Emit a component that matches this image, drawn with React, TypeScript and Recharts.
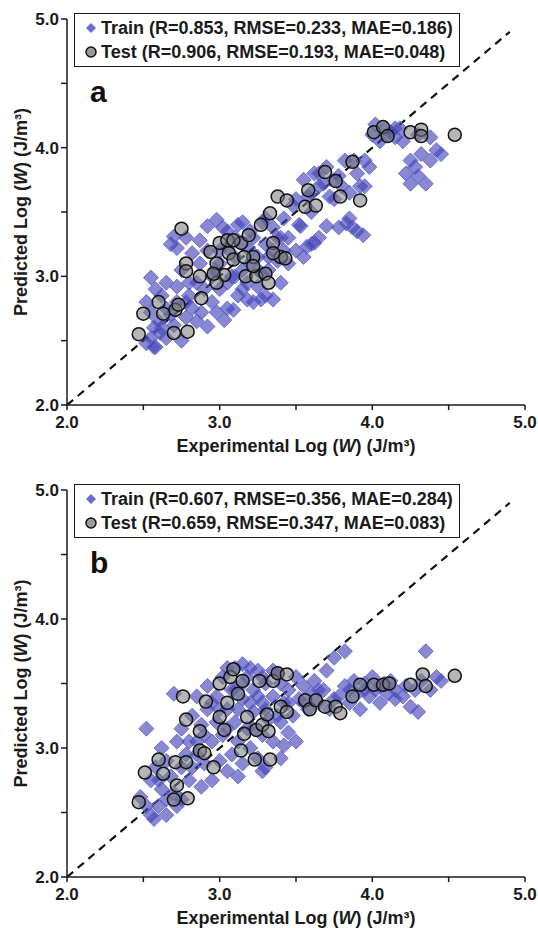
import React from "react";
import {
  Label,
  Legend,
  ReferenceLine,
  Scatter,
  ScatterChart,
  XAxis,
  YAxis,
} from "recharts";

// panel a: log(W) experimental vs predicted
const trainA = [
  { x: 2.52, y: 2.48 }, { x: 2.55, y: 2.52 }, { x: 2.58, y: 2.45 }, { x: 2.57, y: 2.6 },
  { x: 2.55, y: 2.72 }, { x: 2.52, y: 2.8 }, { x: 2.58, y: 2.9 }, { x: 2.55, y: 2.99 },
  { x: 2.62, y: 2.6 }, { x: 2.65, y: 2.52 }, { x: 2.62, y: 2.85 }, { x: 2.65, y: 2.95 },
  { x: 2.68, y: 2.7 }, { x: 2.7, y: 2.62 }, { x: 2.72, y: 2.8 }, { x: 2.72, y: 2.92 },
  { x: 2.75, y: 2.5 }, { x: 2.75, y: 3.05 }, { x: 2.78, y: 2.68 }, { x: 2.8, y: 2.85 },
  { x: 2.8, y: 2.95 }, { x: 2.82, y: 2.75 }, { x: 2.68, y: 3.25 }, { x: 2.72, y: 3.22 },
  { x: 2.7, y: 3.31 }, { x: 2.78, y: 3.3 }, { x: 2.82, y: 3.18 }, { x: 2.85, y: 2.65 },
  { x: 2.88, y: 2.72 }, { x: 2.9, y: 2.9 }, { x: 2.87, y: 3.1 }, { x: 2.87, y: 3.28 },
  { x: 2.92, y: 3.2 }, { x: 2.92, y: 3.39 }, { x: 2.92, y: 2.61 }, { x: 2.95, y: 2.8 },
  { x: 2.98, y: 2.72 }, { x: 2.98, y: 3.44 }, { x: 2.97, y: 3.05 }, { x: 3.0, y: 2.9 },
  { x: 3.02, y: 3.38 }, { x: 3.03, y: 2.66 }, { x: 3.05, y: 2.75 }, { x: 3.08, y: 3.0 },
  { x: 3.05, y: 3.22 }, { x: 3.09, y: 2.74 }, { x: 3.1, y: 3.3 }, { x: 3.12, y: 2.85 },
  { x: 3.15, y: 3.05 }, { x: 3.15, y: 3.42 }, { x: 3.18, y: 2.95 }, { x: 3.18, y: 2.82 },
  { x: 3.2, y: 3.35 }, { x: 3.22, y: 2.8 }, { x: 3.25, y: 3.15 }, { x: 3.25, y: 2.92 },
  { x: 3.27, y: 2.82 }, { x: 3.28, y: 3.42 }, { x: 3.3, y: 2.85 }, { x: 3.3, y: 3.25 },
  { x: 3.32, y: 3.05 }, { x: 3.35, y: 2.82 }, { x: 3.35, y: 3.38 }, { x: 3.38, y: 3.12 },
  { x: 3.4, y: 2.95 }, { x: 3.4, y: 3.3 }, { x: 3.42, y: 3.45 }, { x: 3.45, y: 3.1 },
  { x: 3.45, y: 3.3 }, { x: 3.48, y: 3.55 }, { x: 3.5, y: 3.2 }, { x: 3.52, y: 3.4 },
  { x: 3.53, y: 3.39 }, { x: 3.55, y: 3.15 }, { x: 3.55, y: 3.75 }, { x: 3.57, y: 3.23 },
  { x: 3.58, y: 3.62 }, { x: 3.6, y: 3.65 }, { x: 3.62, y: 3.26 }, { x: 3.62, y: 3.8 },
  { x: 3.65, y: 3.7 }, { x: 3.68, y: 3.72 }, { x: 3.7, y: 3.39 }, { x: 3.7, y: 3.85 },
  { x: 3.72, y: 3.62 }, { x: 3.75, y: 3.6 }, { x: 3.78, y: 3.78 }, { x: 3.78, y: 3.38 },
  { x: 3.82, y: 3.9 }, { x: 3.83, y: 3.41 }, { x: 3.85, y: 3.65 }, { x: 3.87, y: 3.38 },
  { x: 3.9, y: 3.8 }, { x: 3.92, y: 3.7 }, { x: 3.94, y: 3.32 }, { x: 3.95, y: 3.9 },
  { x: 3.95, y: 3.7 }, { x: 3.98, y: 3.85 }, { x: 4.0, y: 4.1 }, { x: 4.02, y: 4.18 },
  { x: 4.05, y: 4.05 }, { x: 4.08, y: 4.15 }, { x: 4.12, y: 4.12 }, { x: 4.15, y: 4.08 },
  { x: 4.18, y: 4.15 }, { x: 4.2, y: 4.05 }, { x: 4.22, y: 3.8 }, { x: 4.25, y: 3.72 },
  { x: 4.28, y: 3.85 }, { x: 4.3, y: 3.78 }, { x: 4.32, y: 3.95 }, { x: 4.35, y: 3.72 },
  { x: 4.38, y: 3.9 }, { x: 4.42, y: 3.98 }, { x: 4.45, y: 3.95 }, { x: 4.3, y: 4.1 },
  { x: 4.38, y: 4.08 }, { x: 2.61, y: 2.56 }, { x: 2.57, y: 2.45 }, { x: 3.1, y: 3.15 },
  { x: 3.2, y: 3.2 }, { x: 3.0, y: 3.1 }, { x: 3.35, y: 3.2 }, { x: 3.28, y: 3.02 },
  { x: 3.0, y: 3.2 }, { x: 3.05, y: 3.35 }, { x: 3.1, y: 3.0 }, { x: 3.12, y: 3.4 },
  { x: 3.15, y: 3.25 }, { x: 3.2, y: 3.1 }, { x: 3.22, y: 3.3 }, { x: 3.25, y: 3.05 },
  { x: 3.3, y: 3.45 }, { x: 3.32, y: 3.15 }, { x: 3.38, y: 3.3 }, { x: 3.42, y: 3.2 },
  { x: 3.15, y: 2.9 }, { x: 3.05, y: 2.95 }, { x: 2.95, y: 3.0 }, { x: 2.85, y: 2.95 },
  { x: 2.78, y: 2.8 }, { x: 2.65, y: 2.75 }, { x: 2.6, y: 2.65 }, { x: 3.5, y: 3.6 },
  { x: 3.6, y: 3.5 }, { x: 3.65, y: 3.8 }, { x: 3.75, y: 3.75 }, { x: 3.8, y: 3.7 },
  { x: 3.88, y: 3.9 }, { x: 4.1, y: 4.1 }, { x: 4.15, y: 4.15 }, { x: 4.25, y: 3.9 },
  { x: 3.6, y: 3.25 }, { x: 3.65, y: 3.3 }, { x: 3.85, y: 3.45 }, { x: 3.9, y: 3.35 },
];

const testA = [
  { x: 2.47, y: 2.55 }, { x: 2.5, y: 2.71 }, { x: 2.6, y: 2.8 }, { x: 2.7, y: 2.56 },
  { x: 2.79, y: 2.57 }, { x: 2.71, y: 2.74 }, { x: 2.73, y: 2.78 }, { x: 2.75, y: 3.37 },
  { x: 2.78, y: 3.1 }, { x: 2.78, y: 3.04 }, { x: 2.87, y: 3.0 }, { x: 2.88, y: 2.83 },
  { x: 2.98, y: 3.1 }, { x: 3.0, y: 3.26 }, { x: 3.03, y: 3.01 }, { x: 3.05, y: 3.28 },
  { x: 3.06, y: 3.18 }, { x: 3.09, y: 3.13 }, { x: 3.14, y: 3.26 }, { x: 3.17, y: 3.0 },
  { x: 3.19, y: 3.32 }, { x: 3.22, y: 3.15 }, { x: 3.24, y: 3.0 }, { x: 3.27, y: 3.4 },
  { x: 3.3, y: 3.02 }, { x: 3.32, y: 2.95 }, { x: 3.33, y: 3.49 }, { x: 3.35, y: 3.26 },
  { x: 3.38, y: 3.62 }, { x: 3.4, y: 3.15 }, { x: 3.43, y: 3.14 }, { x: 3.44, y: 3.59 },
  { x: 3.56, y: 3.54 }, { x: 3.58, y: 3.67 }, { x: 3.63, y: 3.55 }, { x: 3.69, y: 3.81 },
  { x: 3.76, y: 3.74 }, { x: 3.79, y: 3.62 }, { x: 3.87, y: 3.89 }, { x: 3.92, y: 3.59 },
  { x: 4.01, y: 4.12 }, { x: 4.07, y: 4.16 }, { x: 4.1, y: 4.09 }, { x: 4.25, y: 4.12 },
  { x: 4.32, y: 4.14 }, { x: 4.32, y: 4.09 }, { x: 4.54, y: 4.1 }, { x: 3.16, y: 3.15 },
  { x: 2.98, y: 2.95 }, { x: 2.94, y: 3.19 }, { x: 3.09, y: 3.28 }, { x: 3.22, y: 3.08 },
  { x: 3.35, y: 3.18 }, { x: 2.63, y: 2.71 }, { x: 2.96, y: 3.02 },
];

// panel b
const trainB = [
  { x: 2.48, y: 2.62 }, { x: 2.52, y: 2.55 }, { x: 2.55, y: 2.48 }, { x: 2.57, y: 2.45 },
  { x: 2.6, y: 2.55 }, { x: 2.62, y: 2.68 }, { x: 2.55, y: 2.75 }, { x: 2.58, y: 2.85 },
  { x: 2.52, y: 3.15 }, { x: 2.62, y: 3.0 }, { x: 2.65, y: 2.9 }, { x: 2.68, y: 2.78 },
  { x: 2.7, y: 2.65 }, { x: 2.72, y: 2.55 }, { x: 2.75, y: 2.6 }, { x: 2.72, y: 3.05 },
  { x: 2.75, y: 3.15 }, { x: 2.7, y: 3.42 }, { x: 2.78, y: 2.95 }, { x: 2.8, y: 2.75 },
  { x: 2.82, y: 2.85 }, { x: 2.82, y: 3.25 }, { x: 2.85, y: 3.05 }, { x: 2.85, y: 3.4 },
  { x: 2.88, y: 2.7 }, { x: 2.88, y: 3.18 }, { x: 2.9, y: 2.88 }, { x: 2.92, y: 3.3 },
  { x: 2.92, y: 3.48 }, { x: 2.95, y: 2.75 }, { x: 2.95, y: 3.05 }, { x: 2.98, y: 3.2 },
  { x: 2.98, y: 3.4 }, { x: 3.0, y: 2.9 }, { x: 3.02, y: 3.55 }, { x: 3.02, y: 3.1 },
  { x: 3.05, y: 3.3 }, { x: 3.05, y: 2.82 }, { x: 3.08, y: 3.45 }, { x: 3.08, y: 2.95 },
  { x: 3.1, y: 3.62 }, { x: 3.1, y: 3.2 }, { x: 3.12, y: 3.05 }, { x: 3.15, y: 3.38 },
  { x: 3.15, y: 2.88 }, { x: 3.18, y: 3.55 }, { x: 3.18, y: 3.15 }, { x: 3.2, y: 3.0 },
  { x: 3.22, y: 3.45 }, { x: 3.22, y: 3.28 }, { x: 3.25, y: 2.92 }, { x: 3.25, y: 3.6 },
  { x: 3.28, y: 3.1 }, { x: 3.28, y: 3.35 }, { x: 3.3, y: 2.85 }, { x: 3.3, y: 3.5 },
  { x: 3.32, y: 3.22 }, { x: 3.35, y: 3.05 }, { x: 3.35, y: 3.4 }, { x: 3.38, y: 3.58 },
  { x: 3.4, y: 2.92 }, { x: 3.4, y: 3.2 }, { x: 3.42, y: 3.35 }, { x: 3.42, y: 3.02 },
  { x: 3.45, y: 3.45 }, { x: 3.48, y: 3.25 }, { x: 3.5, y: 3.55 }, { x: 3.52, y: 3.38 },
  { x: 3.55, y: 3.48 }, { x: 3.58, y: 3.3 }, { x: 3.6, y: 3.42 }, { x: 3.62, y: 3.52 },
  { x: 3.65, y: 3.35 }, { x: 3.68, y: 3.45 }, { x: 3.7, y: 3.6 }, { x: 3.72, y: 3.3 },
  { x: 3.75, y: 3.7 }, { x: 3.78, y: 3.4 }, { x: 3.82, y: 3.75 }, { x: 3.82, y: 3.48 },
  { x: 3.85, y: 3.35 }, { x: 3.88, y: 3.52 }, { x: 3.9, y: 3.42 }, { x: 3.92, y: 3.3 },
  { x: 3.95, y: 3.5 }, { x: 3.98, y: 3.4 }, { x: 4.0, y: 3.55 }, { x: 4.02, y: 3.45 },
  { x: 4.05, y: 3.35 }, { x: 4.08, y: 3.5 }, { x: 4.1, y: 3.42 }, { x: 4.12, y: 3.52 },
  { x: 4.15, y: 3.45 }, { x: 4.2, y: 3.4 }, { x: 4.22, y: 3.48 }, { x: 4.25, y: 3.32 },
  { x: 4.28, y: 3.45 }, { x: 4.3, y: 3.28 }, { x: 4.32, y: 3.52 }, { x: 4.35, y: 3.75 },
  { x: 4.38, y: 3.45 }, { x: 4.42, y: 3.55 }, { x: 4.45, y: 3.52 }, { x: 3.12, y: 2.78 },
  { x: 3.28, y: 2.82 }, { x: 2.65, y: 2.48 }, { x: 3.45, y: 3.12 }, { x: 3.5, y: 3.05 },
  { x: 3.0, y: 3.3 }, { x: 3.05, y: 3.15 }, { x: 3.1, y: 3.45 }, { x: 3.12, y: 3.3 },
  { x: 3.15, y: 3.5 }, { x: 3.2, y: 3.35 }, { x: 3.22, y: 3.15 }, { x: 3.25, y: 3.4 },
  { x: 3.28, y: 3.55 }, { x: 3.3, y: 3.3 }, { x: 3.35, y: 3.6 }, { x: 3.38, y: 3.25 },
  { x: 3.4, y: 3.5 }, { x: 3.45, y: 3.35 }, { x: 2.95, y: 3.35 }, { x: 2.9, y: 3.1 },
  { x: 2.85, y: 2.95 }, { x: 2.8, y: 3.05 }, { x: 2.75, y: 2.85 }, { x: 2.65, y: 2.6 },
  { x: 2.6, y: 2.75 }, { x: 3.55, y: 3.35 }, { x: 3.65, y: 3.45 }, { x: 3.75, y: 3.38 },
  { x: 3.85, y: 3.45 }, { x: 3.95, y: 3.45 }, { x: 4.05, y: 3.48 }, { x: 4.15, y: 3.38 },
  { x: 3.15, y: 3.65 }, { x: 3.2, y: 3.62 }, { x: 3.05, y: 3.62 },
];

const testB = [
  { x: 2.47, y: 2.58 }, { x: 2.51, y: 2.81 }, { x: 2.6, y: 2.91 }, { x: 2.63, y: 2.8 },
  { x: 2.7, y: 2.6 }, { x: 2.71, y: 2.89 }, { x: 2.72, y: 2.71 }, { x: 2.78, y: 2.89 },
  { x: 2.79, y: 2.61 }, { x: 2.76, y: 3.4 }, { x: 2.78, y: 3.22 }, { x: 2.87, y: 2.98 },
  { x: 2.87, y: 3.13 }, { x: 2.9, y: 2.96 }, { x: 2.91, y: 3.36 }, { x: 2.96, y: 2.85 },
  { x: 3.0, y: 3.5 }, { x: 3.0, y: 3.24 }, { x: 3.03, y: 3.14 }, { x: 3.05, y: 3.35 },
  { x: 3.07, y: 3.55 }, { x: 3.09, y: 3.61 }, { x: 3.12, y: 3.42 }, { x: 3.14, y: 2.98 },
  { x: 3.15, y: 3.52 }, { x: 3.16, y: 3.11 }, { x: 3.18, y: 3.24 }, { x: 3.23, y: 2.91 },
  { x: 3.24, y: 3.14 }, { x: 3.26, y: 3.52 }, { x: 3.28, y: 3.18 }, { x: 3.31, y: 3.26 },
  { x: 3.32, y: 3.13 }, { x: 3.33, y: 2.91 }, { x: 3.35, y: 3.52 }, { x: 3.38, y: 3.58 },
  { x: 3.4, y: 3.32 }, { x: 3.44, y: 3.57 }, { x: 3.44, y: 3.28 }, { x: 3.56, y: 3.37 },
  { x: 3.59, y: 3.3 }, { x: 3.63, y: 3.37 }, { x: 3.69, y: 3.32 }, { x: 3.76, y: 3.32 },
  { x: 3.79, y: 3.27 }, { x: 3.87, y: 3.4 }, { x: 3.92, y: 3.49 }, { x: 4.01, y: 3.49 },
  { x: 4.07, y: 3.49 }, { x: 4.11, y: 3.5 }, { x: 4.25, y: 3.49 }, { x: 4.33, y: 3.57 },
  { x: 4.35, y: 3.48 }, { x: 4.54, y: 3.56 },
];

const axisTicks = [2, 2.5, 3, 3.5, 4, 4.5, 5];
const statsA = [
  "Train (R=0.853, RMSE=0.233, MAE=0.186)",
  "Test (R=0.906, RMSE=0.193, MAE=0.048)",
];
const statsB = [
  "Train (R=0.607, RMSE=0.356, MAE=0.284)",
  "Test (R=0.659, RMSE=0.347, MAE=0.083)",
];

const FONT = '"Liberation Sans", Arial, sans-serif';
const AXIS = "#1a1a1a";

const Diamond = (props: any) => {
  const { cx, cy } = props;
  const r = 7.5;
  return (
    <polygon
      points={`${cx},${cy - r} ${cx + r},${cy} ${cx},${cy + r} ${cx - r},${cy}`}
      fill="#4040b6"
      fillOpacity={0.62}
      stroke="#6d6dd6"
      strokeWidth={1}
    />
  );
};

const Dot = (props: any) => (
  <circle
    cx={props.cx}
    cy={props.cy}
    r={6.5}
    fill="#7a7a7a"
    fillOpacity={0.55}
    stroke="#111"
    strokeWidth={1.5}
  />
);

const tickFmt = (v: number) => (Number.isInteger(v) ? v.toFixed(1) : "");

const xTitle = (props: any) => {
  const vb = props.viewBox;
  return (
    <text
      x={vb.x + vb.width / 2}
      y={vb.y + 47}
      textAnchor="middle"
      fontFamily={FONT}
      fontWeight="bold"
      fontSize={18}
      fill="#1a1a1a"
    >
      Experimental Log (<tspan fontStyle="italic">W</tspan>) (J/m³)
    </text>
  );
};

const yTitle = (props: any) => {
  const vb = props.viewBox;
  const x = 27;
  const y = vb.y + vb.height / 2;
  return (
    <text
      x={x}
      y={y}
      transform={`rotate(-90 ${x} ${y})`}
      textAnchor="middle"
      fontFamily={FONT}
      fontWeight="bold"
      fontSize={18}
      fill="#1a1a1a"
    >
      Predicted Log (<tspan fontStyle="italic">W</tspan>) (J/m³)
    </text>
  );
};

const makeLegend = (lines: string[]) => () => (
  <div
    style={{
      border: "1.5px solid #1a1a1a",
      background: "#fff",
      width: 384,
      padding: "2px 0 2px 0",
      fontFamily: FONT,
      fontWeight: "bold",
      fontSize: 18,
      lineHeight: "24px",
      color: "#1a1a1a",
      whiteSpace: "nowrap",
    }}
  >
    <div style={{ display: "flex", alignItems: "center" }}>
      <svg width={26} height={24}>
        <polygon points="16,7 21,12 16,17 11,12" fill="#6b6bd2" />
      </svg>
      <span>{lines[0]}</span>
    </div>
    <div style={{ display: "flex", alignItems: "center" }}>
      <svg width={26} height={24}>
        <circle cx={16} cy={12} r={5} fill="#9a9a9a" stroke="#111" strokeWidth={1.5} />
      </svg>
      <span>{lines[1]}</span>
    </div>
  </div>
);

const Panel = ({
  train,
  test,
  stats,
  letter,
  top,
  xHeight,
}: {
  train: { x: number; y: number }[];
  test: { x: number; y: number }[];
  stats: string[];
  letter: string;
  top: number;
  xHeight: number;
}) => (
  <div style={{ position: "relative", width: 538, height: 464 }}>
    <ScatterChart
      width={538}
      height={464}
      margin={{ top: top, right: 13, bottom: 0, left: 0 }}
    >
      <XAxis
        type="number"
        dataKey="x"
        domain={[2, 5]}
        ticks={axisTicks}
        tickFormatter={tickFmt}
        height={xHeight}
        interval={0}
        allowDataOverflow
        stroke={AXIS}
        strokeWidth={1.5}
        tickSize={5}
        tickMargin={6}
        tick={{ fill: "#1a1a1a", fontSize: 17, fontWeight: "bold", fontFamily: FONT }}
      >
        <Label content={xTitle} />
      </XAxis>
      <YAxis
        type="number"
        dataKey="y"
        domain={[2, 5]}
        ticks={axisTicks}
        tickFormatter={tickFmt}
        width={67}
        interval={0}
        allowDataOverflow
        stroke={AXIS}
        strokeWidth={1.5}
        tickSize={6}
        tickMargin={2}
        tick={{ fill: "#1a1a1a", fontSize: 17, fontWeight: "bold", fontFamily: FONT }}
      >
        <Label content={yTitle} />
      </YAxis>
      <ReferenceLine
        segment={[
          { x: 2, y: 2 },
          { x: 4.9, y: 4.9 },
        ]}
        stroke="#111"
        strokeWidth={2.2}
        strokeDasharray="8 6"
        ifOverflow="visible"
      />
      <Scatter data={train} shape={Diamond} isAnimationActive={false} />
      <Scatter data={test} shape={Dot} isAnimationActive={false} />
      <Legend
        layout="vertical"
        align="center"
        verticalAlign="middle"
        content={makeLegend(stats)}
        wrapperStyle={{ left: 74, top: top - 6, width: "auto", height: "auto" }}
      />
    </ScatterChart>
    <div
      style={{
        position: "absolute",
        left: 90,
        top: top + 58,
        fontFamily: FONT,
        fontWeight: "bold",
        fontSize: 30,
        lineHeight: "30px",
        color: "#111",
      }}
    >
      {letter}
    </div>
  </div>
);

export default function App() {
  return (
    <div style={{ position: "absolute", left: 0, top: 0, width: 538, height: 928, background: "#fff" }}>
      <Panel train={trainA} test={testA} stats={statsA} letter="a" top={19} xHeight={59} />
      <Panel train={trainB} test={testB} stats={statsB} letter="b" top={26} xHeight={51} />
    </div>
  );
}
